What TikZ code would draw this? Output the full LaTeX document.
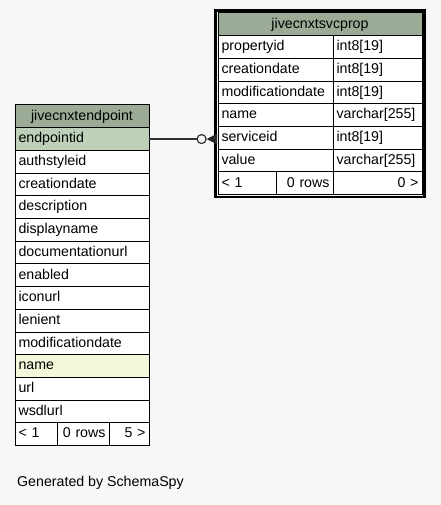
\documentclass[tikz,border=0pt]{standalone}
\usepackage{fontspec}
\setmainfont{Liberation Sans}
\usepackage{tikz}
\usetikzlibrary{positioning}
\usetikzlibrary{fit}
\definecolor{bgGrey}{HTML}{F7F7F7}
\definecolor{headGreen}{HTML}{9BAB96}
\definecolor{keyGreen}{HTML}{BED1B8}
\definecolor{idxYellow}{HTML}{F4F7DA}
\newcommand{\tblfont}{\fontsize{14.2bp}{16bp}\selectfont}
\tikzset{
  cell/.style={draw=black, fill=white, line width=1bp, outer sep=0pt,
    inner xsep=3.5bp, inner ysep=0pt, minimum height=22.7bp,
    text height=10.5bp, text depth=3bp, align=left, font=\tblfont},
  headcell/.style={cell, fill=headGreen, align=center, anchor=north west},
  lcol/.style={cell, text width=127bp},
  scolA/.style={cell, text width=108bp},
  scolB/.style={cell, text width=82bp},
  ring/.style={circle, draw=black!80, fill=bgGrey, line width=1.2bp,
    minimum size=9bp, inner sep=0pt},
  link/.style={draw=black!80, line width=1.3bp}
}

\begin{document}
\begin{tikzpicture}[x=1bp,y=-1bp]
\useasboundingbox[fill=bgGrey] (0,0) rectangle (441,505);
% table jivecnxtendpoint
\node[headcell, text width=127bp] (epHead) at (15,105) {jivecnxtendpoint};
\node[lcol, fill=keyGreen, below=0pt of epHead] (epId) {endpointid};
\node[lcol, below=0pt of epId] (epAuth) {authstyleid};
\node[lcol, below=0pt of epAuth] (epCre) {creationdate};
\node[lcol, below=0pt of epCre] (epDesc) {description};
\node[lcol, below=0pt of epDesc] (epDisp) {displayname};
\node[lcol, below=0pt of epDisp] (epDoc) {documentationurl};
\node[lcol, below=0pt of epDoc] (epEna) {enabled};
\node[lcol, below=0pt of epEna] (epIcon) {iconurl};
\node[lcol, below=0pt of epIcon] (epLen) {lenient};
\node[lcol, below=0pt of epLen] (epMod) {modificationdate};
\node[lcol, fill=idxYellow, below=0pt of epMod] (epName) {name};
\node[lcol, below=0pt of epName] (epUrl) {url};
\node[lcol, below=0pt of epUrl] (epWsdl) {wsdlurl};
\node[cell, text width=35bp, below=0pt of epWsdl.south west, anchor=north west] (epFootL) {< 1};
\node[cell, text width=45bp, align=right, right=0pt of epFootL] (epFootM) {0 rows};
\node[cell, text width=33bp, align=right, right=0pt of epFootM] (epFootR) {5 >};
% table jivecnxtsvcprop
\node[headcell, text width=197bp] (spHead) at (218,13) {jivecnxtsvcprop};
\node[scolA, below=0pt of spHead.south west, anchor=north west] (spProp) {propertyid};
\node[scolB, right=0pt of spProp] (spPropT) {int8[19]};
\node[scolA, below=0pt of spProp] (spCre) {creationdate};
\node[scolB, right=0pt of spCre] (spCreT) {int8[19]};
\node[scolA, below=0pt of spCre] (spMod) {modificationdate};
\node[scolB, right=0pt of spMod] (spModT) {int8[19]};
\node[scolA, below=0pt of spMod] (spName) {name};
\node[scolB, right=0pt of spName] (spNameT) {varchar[255]};
\node[scolA, below=0pt of spName] (spSid) {serviceid};
\node[scolB, right=0pt of spSid] (spSidT) {int8[19]};
\node[scolA, below=0pt of spSid] (spVal) {value};
\node[scolB, right=0pt of spVal] (spValT) {varchar[255]};
\node[cell, text width=51bp, below=0pt of spVal.south west, anchor=north west] (spFootL) {< 1};
\node[cell, text width=50bp, align=right, right=0pt of spFootL] (spFootM) {0 rows};
\node[cell, text width=82bp, align=right, right=0pt of spFootM] (spFootR) {0 >};
\node[fit=(spHead)(spFootR), draw=black, line width=2.5bp, inner sep=2.5bp] (spFrame) {};
% serviceid -> endpointid
\path (spSid.west |- epId.east) ++(-11.3,0) node[ring, anchor=east] (ring) {};
\draw[link] (epId.east) -- (ring.west);
\fill[black!85] (ring.east) -- ++(10.5,-5.5) -- ++(0,11) -- cycle;
\node[anchor=west, inner sep=0pt, font=\tblfont] (gen) at (17,483) {Generated by SchemaSpy};
\end{tikzpicture}
\end{document}
